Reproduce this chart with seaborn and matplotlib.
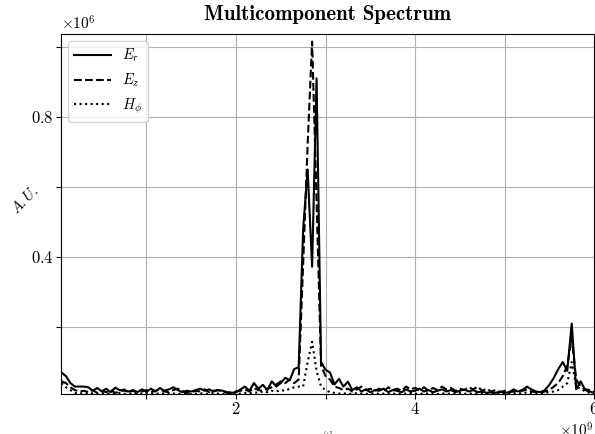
import seaborn as sns
import matplotlib.pyplot as plt
import matplotlib.ticker as mticker
import numpy as np

# frequency grid (x 1e9), 0.05 .. 6.00
freq_ghz = np.round(np.arange(1, 121) * 0.05, 2)

# spectra (x 1e6, arbitrary units)
e_r = [0.070, 0.060, 0.040, 0.030, 0.030, 0.030, 0.028, 0.018, 0.026, 0.016,
       0.024, 0.014, 0.027, 0.020, 0.018, 0.016, 0.020, 0.014, 0.022, 0.015,
       0.024, 0.016, 0.026, 0.018, 0.022, 0.028, 0.020, 0.014, 0.018, 0.016,
       0.020, 0.024, 0.018, 0.022, 0.016, 0.020, 0.018, 0.014, 0.012, 0.014,
       0.022, 0.030, 0.018, 0.040, 0.024, 0.035, 0.020, 0.045, 0.030, 0.040,
       0.055, 0.048, 0.080, 0.085, 0.480, 0.650, 0.372, 0.910, 0.100, 0.078,
       0.070, 0.036, 0.052, 0.030, 0.044, 0.020, 0.028, 0.016, 0.022, 0.014,
       0.020, 0.018, 0.024, 0.014, 0.020, 0.018, 0.014, 0.022, 0.016, 0.018,
       0.024, 0.016, 0.020, 0.014, 0.018, 0.022, 0.016, 0.020, 0.014, 0.018,
       0.022, 0.016, 0.020, 0.014, 0.016, 0.012, 0.014, 0.012, 0.016, 0.012,
       0.014, 0.022, 0.016, 0.020, 0.030, 0.022, 0.016, 0.014, 0.020, 0.035,
       0.055, 0.080, 0.100, 0.075, 0.210, 0.022, 0.045, 0.020, 0.016, 0.012]

e_z = [0.045, 0.040, 0.028, 0.020, 0.016, 0.018, 0.014, 0.020, 0.012, 0.018,
       0.014, 0.020, 0.012, 0.016, 0.022, 0.014, 0.018, 0.012, 0.016, 0.020,
       0.014, 0.018, 0.022, 0.016, 0.014, 0.020, 0.024, 0.018, 0.012, 0.014,
       0.018, 0.016, 0.022, 0.014, 0.018, 0.020, 0.016, 0.012, 0.014, 0.016,
       0.018, 0.022, 0.016, 0.026, 0.020, 0.018, 0.024, 0.028, 0.036, 0.045,
       0.040, 0.050, 0.040, 0.050, 0.380, 0.720, 1.015, 0.560, 0.090, 0.060,
       0.050, 0.030, 0.026, 0.020, 0.024, 0.016, 0.022, 0.030, 0.020, 0.024,
       0.018, 0.024, 0.016, 0.028, 0.020, 0.024, 0.018, 0.030, 0.022, 0.026,
       0.020, 0.028, 0.018, 0.026, 0.020, 0.030, 0.022, 0.026, 0.018, 0.024,
       0.020, 0.028, 0.022, 0.030, 0.018, 0.024, 0.016, 0.020, 0.014, 0.018,
       0.014, 0.016, 0.020, 0.018, 0.022, 0.016, 0.014, 0.012, 0.016, 0.020,
       0.030, 0.040, 0.060, 0.090, 0.170, 0.050, 0.030, 0.022, 0.020, 0.014]

h_phi = [0.040, 0.028, 0.020, 0.012, 0.010, 0.012, 0.009, 0.011, 0.010, 0.012,
         0.009, 0.011, 0.010, 0.012, 0.009, 0.010, 0.011, 0.009, 0.010, 0.012,
         0.010, 0.009, 0.011, 0.010, 0.012, 0.010, 0.009, 0.011, 0.010, 0.009,
         0.010, 0.011, 0.009, 0.010, 0.012, 0.010, 0.009, 0.010, 0.011, 0.009,
         0.010, 0.012, 0.011, 0.014, 0.012, 0.016, 0.014, 0.018, 0.016, 0.020,
         0.018, 0.024, 0.028, 0.030, 0.030, 0.100, 0.158, 0.075, 0.030, 0.020,
         0.014, 0.012, 0.010, 0.011, 0.009, 0.010, 0.011, 0.010, 0.009, 0.010,
         0.011, 0.009, 0.010, 0.012, 0.010, 0.009, 0.011, 0.010, 0.012, 0.010,
         0.009, 0.011, 0.010, 0.012, 0.009, 0.010, 0.011, 0.009, 0.010, 0.012,
         0.010, 0.009, 0.011, 0.010, 0.012, 0.010, 0.009, 0.010, 0.011, 0.009,
         0.010, 0.011, 0.012, 0.010, 0.014, 0.012, 0.010, 0.011, 0.012, 0.014,
         0.016, 0.020, 0.030, 0.040, 0.100, 0.030, 0.024, 0.016, 0.012, 0.010]

labels = [r'$E_r$', r'$E_z$', r'$H_\phi$']
styles = ['-', '--', ':']

plt.rcParams.update({
    'font.family': 'serif',
    'font.serif': ['cmr10'],
    'mathtext.fontset': 'cm',
    'axes.formatter.use_mathtext': True,
    'axes.unicode_minus': False,
})

fig = plt.figure(figsize=(5.95, 4.34), dpi=100)
ax = fig.add_axes([0.1025, 0.092, 0.896, 0.83])

freq = freq_ghz * 1e9
for vals, lab, ls in zip([e_r, e_z, h_phi], labels, styles):
    sns.lineplot(x=freq, y=np.array(vals) * 1e6, ax=ax, color='black',
                 linestyle=ls, linewidth=1.5, label=lab)

ax.set_xlim(0.045e9, 6.0e9)
ax.set_ylim(0.0086e6, 1.037e6)

ax.xaxis.set_major_locator(mticker.MultipleLocator(2e9))
ax.xaxis.set_minor_locator(mticker.MultipleLocator(1e9))
ax.yaxis.set_major_locator(mticker.MultipleLocator(0.4e6))
ax.yaxis.set_minor_locator(mticker.MultipleLocator(0.2e6))
ax.ticklabel_format(axis='x', style='sci', scilimits=(9, 9), useMathText=True)
ax.ticklabel_format(axis='y', style='sci', scilimits=(6, 6), useMathText=True)
ax.tick_params(which='both', length=3.5, width=0.8, labelsize=12, pad=1.5)
ax.xaxis.get_offset_text().set_fontsize(11)
ax.yaxis.get_offset_text().set_fontsize(11)
ax.grid(True, which='both', color='#b0b0b0', linewidth=0.8)

ax.set_title('Multicomponent Spectrum', fontfamily='cmb10', fontsize=15, pad=10)
ax.set_ylabel(r'$A.U.$', rotation=45, fontsize=10.5)
ax.yaxis.set_label_coords(-0.058, 0.525)
ax.set_xlabel(r'$\omega$', fontsize=9, labelpad=8)

ax.legend(loc='upper left', fontsize=10.5, handlelength=2.5)

plt.savefig('out.png', dpi=100)
